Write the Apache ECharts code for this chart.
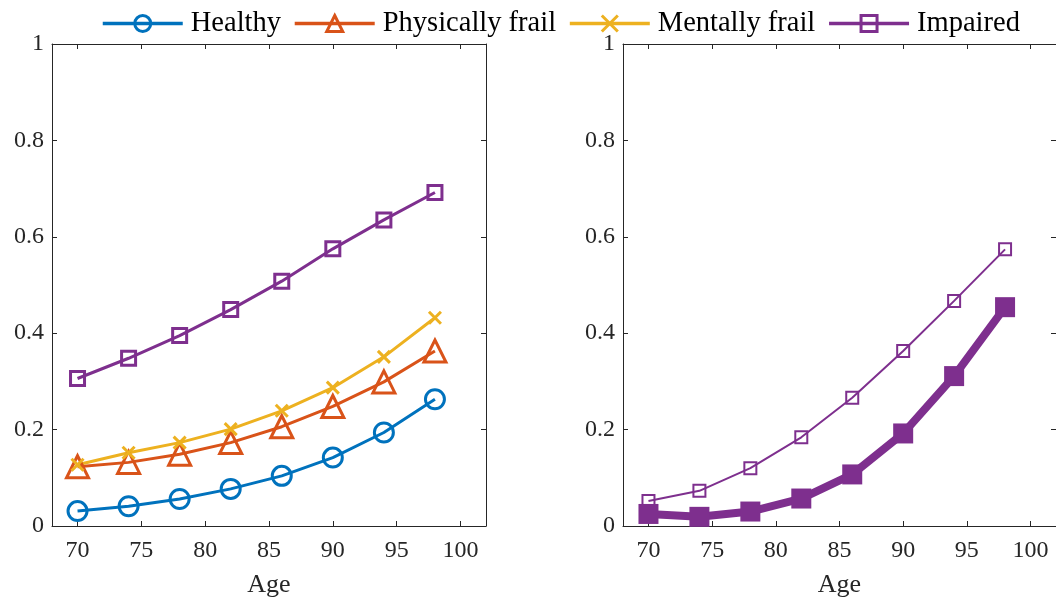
<!DOCTYPE html>
<html><head><meta charset="utf-8">
<script src="https://cdn.jsdelivr.net/npm/echarts@6/dist/echarts.min.js"></script>
<style>html,body{margin:0;padding:0;background:#fff}#c{width:1056px;height:605px}</style>
</head><body><div id="c"></div>
<script>
const ages = [70, 74, 78, 82, 86, 90, 94, 98];
const xTicks = [70, 75, 80, 85, 90, 95, 100];
const yTicks = [0, 0.2, 0.4, 0.6, 0.8, 1];
const healthy = [0.031, 0.041, 0.056, 0.077, 0.104, 0.142, 0.194, 0.263];
const physFrail = [0.123, 0.132, 0.149, 0.173, 0.206, 0.248, 0.299, 0.363];
const mentFrail = [0.127, 0.152, 0.173, 0.201, 0.239, 0.287, 0.351, 0.432];
const impaired = [0.306, 0.348, 0.395, 0.449, 0.508, 0.575, 0.635, 0.692];
const rightOpen = [0.052, 0.073, 0.120, 0.184, 0.266, 0.363, 0.467, 0.574];
const rightFilled = [0.025, 0.019, 0.030, 0.057, 0.107, 0.192, 0.311, 0.454];

const C = ['#0072BD', '#D95319', '#EDB120', '#7E2F8E'];
const FONT = 'Liberation Serif';
const AX = '#262626';
const pair = (ys) => ages.map((a, i) => [a, ys[i]]);

function xAx(gi, pos) {
  const bottom = pos === 'bottom';
  return {
    type: 'value', gridIndex: gi, position: pos, min: 68, max: 102,
    name: bottom ? 'Age' : '', nameLocation: 'middle', nameGap: 46,
    nameTextStyle: { fontFamily: FONT, fontSize: 26, color: AX },
    axisLine: { show: true, onZero: false, lineStyle: { color: AX, width: 1 } },
    axisTick: { show: true, inside: true, length: 5, customValues: xTicks, lineStyle: { color: AX } },
    axisLabel: { show: bottom, customValues: xTicks, margin: 13, fontFamily: FONT, fontSize: 24, color: AX },
    splitLine: { show: false }
  };
}
function yAx(gi, pos) {
  const left = pos === 'left';
  return {
    type: 'value', gridIndex: gi, position: pos, min: 0, max: 1,
    axisLine: { show: true, onZero: false, lineStyle: { color: AX, width: 1 } },
    axisTick: { show: true, inside: true, length: 5, customValues: yTicks, lineStyle: { color: AX } },
    axisLabel: { show: left, customValues: yTicks, margin: 8, fontFamily: FONT, fontSize: 24, color: AX,
      formatter: v => String(Math.round(v * 10) / 10) },
    splitLine: { show: false }
  };
}

const option = {
  animation: false,
  backgroundColor: '#fff',
  textStyle: { fontFamily: FONT },
  legend: {
    left: 96, top: 4, itemWidth: 80, itemHeight: 20, itemGap: 12,
    data: ['Healthy', 'Physically frail', 'Mentally frail', 'Impaired'],
    lineStyle: { width: 3.5 },
    itemStyle: { borderWidth: 3 },
    textStyle: { fontFamily: FONT, fontSize: 28.5, color: '#000', padding: [0, 0, 0, 3] }
  },
  grid: [
    { left: 52, top: 44, width: 434, height: 482 },
    { left: 623, top: 44, width: 434, height: 482 }
  ],
  xAxis: [xAx(0, 'bottom'), xAx(0, 'top'), xAx(1, 'bottom'), xAx(1, 'top')],
  yAxis: [yAx(0, 'left'), yAx(0, 'right'), yAx(1, 'left'), yAx(1, 'right')],
  series: [
    { name: 'Healthy', type: 'line', xAxisIndex: 0, yAxisIndex: 0, data: pair(healthy),
      symbol: 'circle', symbolSize: 19,
      lineStyle: { color: C[0], width: 3 },
      itemStyle: { color: 'rgba(255,255,255,0)', borderColor: C[0], borderWidth: 3 } },
    { name: 'Physically frail', type: 'line', xAxisIndex: 0, yAxisIndex: 0, data: pair(physFrail),
      symbol: 'triangle', symbolSize: 22,
      lineStyle: { color: C[1], width: 3 },
      itemStyle: { color: 'rgba(255,255,255,0)', borderColor: C[1], borderWidth: 3 } },
    { name: 'Mentally frail', type: 'line', xAxisIndex: 0, yAxisIndex: 0, data: pair(mentFrail),
      symbol: 'path://M0,0L10,10M10,0L0,10', symbolSize: 12,
      lineStyle: { color: C[2], width: 3 },
      itemStyle: { color: 'rgba(255,255,255,0)', borderColor: C[2], borderWidth: 3 } },
    { name: 'Impaired', type: 'line', xAxisIndex: 0, yAxisIndex: 0, data: pair(impaired),
      symbol: 'rect', symbolSize: 14,
      lineStyle: { color: C[3], width: 3 },
      itemStyle: { color: 'rgba(255,255,255,0)', borderColor: C[3], borderWidth: 3 } },
    { name: 'Impaired (open)', type: 'line', xAxisIndex: 2, yAxisIndex: 2, data: pair(rightOpen),
      symbol: 'rect', symbolSize: 12,
      lineStyle: { color: C[3], width: 2 },
      itemStyle: { color: 'rgba(255,255,255,0)', borderColor: C[3], borderWidth: 2 } },
    { name: 'Impaired (filled)', type: 'line', xAxisIndex: 2, yAxisIndex: 2, data: pair(rightFilled),
      symbol: 'rect', symbolSize: 20,
      lineStyle: { color: C[3], width: 8 },
      itemStyle: { color: C[3], borderColor: C[3], borderWidth: 0 } }
  ]
};
const chart = echarts.init(document.getElementById('c'), null, { renderer: 'canvas' });
chart.setOption(option);
</script></body></html>
